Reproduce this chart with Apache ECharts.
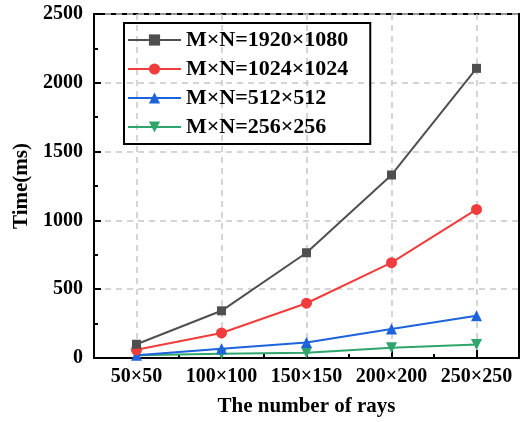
<!DOCTYPE html>
<html>
<head>
<meta charset="utf-8">
<title>Time vs rays</title>
<script src="https://cdn.jsdelivr.net/npm/echarts@6/dist/echarts.min.js"></script>
<style>
  html, body { margin: 0; padding: 0; background: #fff; }
</style>
</head>
<body>
<div id="main" style="width:520px;height:422px;"></div>
<script type="text/javascript">
// data
var rays = ['50×50', '100×100', '150×150', '200×200', '250×250'];
var names = ['M×N=1920×1080', 'M×N=1024×1024', 'M×N=512×512', 'M×N=256×256'];
var t1920 = [100, 343, 765, 1330, 2105];
var t1024 = [60, 182, 398, 693, 1080];
var t512 = [20, 68, 112, 210, 307];
var t256 = [20, 30, 38, 75, 98];
var yTicks = [0, 2500, 500];

var font = "'Liberation Serif', 'Times New Roman', serif";
var colors = ['#4f4f4f', '#f03c3c', '#1e63dc', '#2ea56b'];
var symbols = ['rect', 'circle', 'triangle', 'triangle'];
var rotates = [0, 0, 0, 180];
var values = [t1920, t1024, t512, t256];

var myChart = echarts.init(document.getElementById('main'));

function dashed() { return { color: '#c8c8c8', type: [6, 5], width: 1.5 }; }
function black() { return { color: '#000', width: 2 }; }

var option = {
  animation: false,
  grid: {
    left: 94, right: 1, top: 14, bottom: 64,
    outerBoundsMode: 'none',
    show: true, borderColor: '#000', borderWidth: 2, backgroundColor: 'transparent'
  },
  legend: {
    orient: 'vertical',
    left: 124, top: 23,
    itemWidth: 53, itemHeight: 14, itemGap: 7,
    padding: [6, 22, 6, 3],
    borderColor: '#000', borderWidth: 2,
    textStyle: { fontFamily: font, fontWeight: 'bold', fontSize: 22, lineHeight: 22, color: '#000' },
    data: names
  },
  xAxis: [{
    type: 'category',
    data: rays,
    boundaryGap: true,
    name: 'The number of rays',
    nameLocation: 'middle',
    nameGap: 38,
    nameTextStyle: { fontFamily: font, fontWeight: 'bold', fontSize: 21, color: '#000' },
    axisLine: { lineStyle: black() },
    axisTick: { show: true, inside: true, alignWithLabel: true, length: 8, lineStyle: black() },
    axisLabel: { interval: 0, fontFamily: font, fontWeight: 'bold', fontSize: 20, color: '#000', margin: 9 },
    splitLine: { show: false }
  }, {
    // helper axis: short ticks between categories, dashed grid at category centres
    type: 'value',
    position: 'bottom',
    min: 0, max: 5, interval: 1,
    axisLine: { show: false },
    axisLabel: { show: false },
    axisTick: { show: true, inside: true, length: 4, lineStyle: black() },
    splitLine: { show: false },
    minorTick: { show: false, splitNumber: 2 },
    minorSplitLine: { show: true, lineStyle: dashed() }
  }],
  yAxis: {
    type: 'value',
    min: yTicks[0], max: yTicks[1], interval: yTicks[2],
    name: 'Time(ms)',
    nameLocation: 'middle',
    nameGap: 61,
    nameTextStyle: { fontFamily: font, fontWeight: 'bold', fontSize: 21, color: '#000' },
    axisLine: { show: true, lineStyle: black() },
    axisTick: { show: true, inside: true, length: 7, lineStyle: black() },
    minorTick: { show: true, splitNumber: 2, length: 4, lineStyle: black() },
    axisLabel: {
      fontFamily: font, fontWeight: 'bold', fontSize: 20, color: '#000', margin: 11,
      formatter: function (v) { return String(v); }
    },
    splitLine: { show: true, lineStyle: dashed() }
  },
  series: names.map(function (n, i) {
    return {
      name: n,
      type: 'line',
      xAxisIndex: 0,
      data: values[i],
      symbol: symbols[i],
      symbolRotate: rotates[i],
      symbolSize: i === 0 ? 9 : 11,
      showAllSymbol: true,
      lineStyle: { color: colors[i], width: 2 },
      itemStyle: { color: colors[i] },
      z: 10 - i
    };
  })
};

myChart.setOption(option);
</script>
</body>
</html>
